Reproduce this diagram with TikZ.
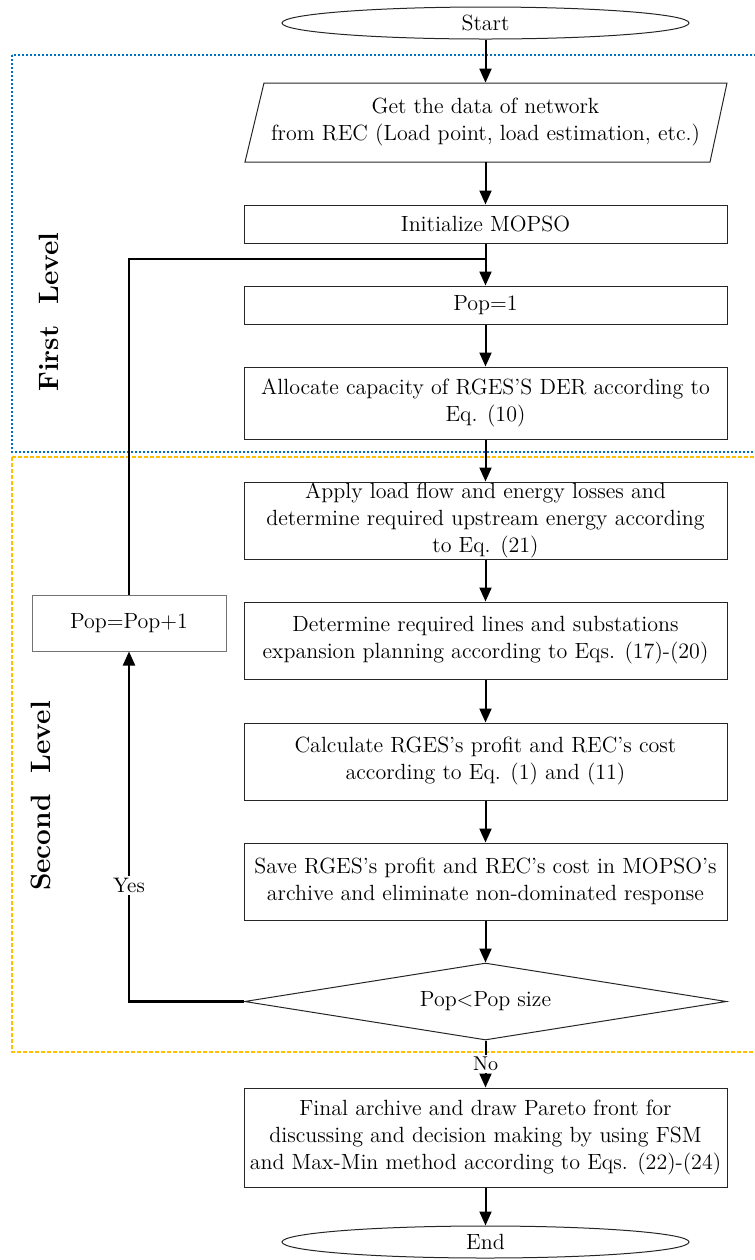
\documentclass[tikz,border=0pt]{standalone}
\usepackage{fontspec}
\usepackage{tikz}
\usetikzlibrary{shapes.geometric,arrows.meta}
\usepackage{color}
\definecolor{levelblue}{RGB}{0,112,192}
\definecolor{levelorange}{RGB}{255,192,0}
\colorlet{boxline}{black!85}

\begin{document}
\begin{tikzpicture}[x=0.5pt,y=-0.5pt,
    every node/.style={font=\fontsize{11}{13.5}\selectfont, align=center, inner sep=0pt},
    stepbox/.style={draw=boxline, line width=0.5pt, rectangle, minimum width=241.5pt},
    term/.style={draw=boxline, line width=0.5pt, ellipse, minimum width=203.5pt, minimum height=16pt},
    decide/.style={draw=boxline, line width=0.5pt, diamond, aspect=6.26, minimum width=241pt, minimum height=38.5pt},
    flow/.style={line width=1pt, -{Triangle[length=7pt,width=6pt]}},
    loopline/.style={line width=1.1pt},
    levellabel/.style={font=\fontsize{14}{16}\selectfont\bfseries, rotate=90}]
        \useasboundingbox (0,0) rectangle (755,1260);
        \clip (0,0) rectangle (755,1260);
        % level frames
        \draw[levelblue, line width=0.6pt, dash pattern=on 1.2pt off 0.8pt] (12,55) rectangle (775,452);
        \draw[levelorange, line width=0.8pt, dash pattern=on 2pt off 1pt] (12,457) rectangle (775,1052);
        \node[levellabel] (first) at (49,312) {First\ \ Level};
        \node[levellabel] (second) at (41,796) {Second\ \ Level};
        % flow chart
        \node[term] (start) at (485.5,23) {Start};
        \node[minimum width=232pt, minimum height=39.5pt] (data) at (485.5,122.5) {Get the data of network\\ from REC (Load point, load estimation, etc.)};
        \draw[boxline, line width=0.5pt] ([shift={(-240.5,39.5)}]data.center) -- ++(465,0) -- ++(17,-79) -- ++(-463,0) -- cycle;
        \node[stepbox, minimum height=19pt] (init) at (485.5,224) {Initialize MOPSO};
        \node[stepbox, minimum height=19pt] (pop) at (485.5,305) {Pop=1};
        \node[stepbox, minimum height=36pt] (alloc) at (485.5,403) {Allocate capacity of RGES’S DER according to\\ Eq. (10)};
        \node[stepbox, minimum height=38.5pt] (apply) at (485.5,520.5) {Apply load flow and energy losses and\\ determine required upstream energy according\\ to Eq. (21)};
        \node[stepbox, minimum height=38.5pt] (expand) at (485.5,640.5) {Determine required lines and substations\\ expansion planning according to Eqs. (17)-(20)};
        \node[stepbox, minimum height=38.5pt] (calc) at (485.5,761.5) {Calculate RGES’s profit and REC’s cost\\ according to Eq. (1) and (11)};
        \node[stepbox, minimum height=38.5pt] (save) at (485.5,881.5) {Save RGES’s profit and REC’s cost in MOPSO’s\\ archive and eliminate non-dominated response};
        \node[decide] (test) at (485.5,1001.5) {Pop<Pop size};
        \node[stepbox, minimum height=49.5pt] (final) at (485.5,1137.5) {Final archive and draw Pareto front for\\ discussing and decision making by using FSM\\ and Max-Min method according to Eqs. (22)-(24)};
        \node[term] (end) at (485.5,1242) {End};
        \node[stepbox, draw=black!55, minimum width=97pt, minimum height=28pt] (inc) at (129,623) {Pop=Pop+1};
        \coordinate (join) at (485.5,259);
        % connectors
        \draw[flow] (start) -- (data);
        \draw[flow] (data) -- (init);
        \draw[flow] (init) -- (pop);
        \draw[flow] (pop) -- (alloc);
        \draw[flow] (alloc) -- (apply);
        \draw[flow] (apply) -- (expand);
        \draw[flow] (expand) -- (calc);
        \draw[flow] (calc) -- (save);
        \draw[flow] (save) -- (test);
        \draw[flow] (test) -- node[fill=white, inner sep=1pt, font=\fontsize{10}{12}\selectfont]{No} (final);
        \draw[flow] (final) -- (end);
        \draw[loopline, -{Triangle[length=7pt,width=6pt]}] (test.west) -| node[pos=0.666, fill=white, inner sep=1pt, font=\fontsize{10.5}{12}\selectfont]{Yes} (inc.south);
        \draw[loopline] (inc.north) |- (join);
    \end{tikzpicture}
\end{document}
